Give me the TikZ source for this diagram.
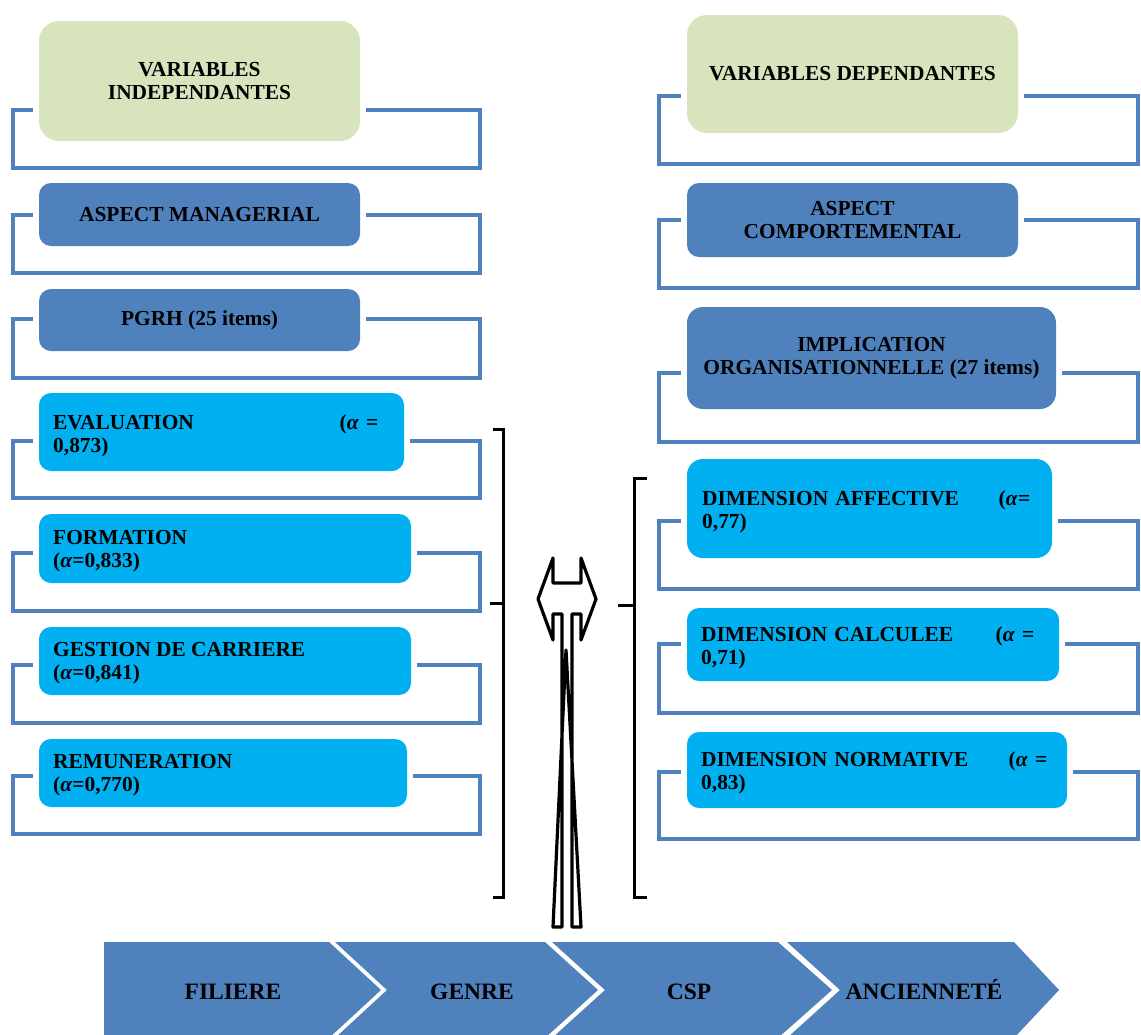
\documentclass[tikz,border=0pt]{standalone}
\usepackage{fontspec}
\setmainfont{Liberation Serif}
\definecolor{frameblue}{HTML}{4F81BD}
\definecolor{darkbox}{HTML}{4F81BD}
\definecolor{cyanbox}{HTML}{00B0F0}
\definecolor{greenbox}{HTML}{D7E4BD}
\tikzset{
  boxtext/.style={font=\fontsize{21.4}{22.5}\selectfont\bfseries},
  basebox/.style={draw=none, inner sep=0pt, rounded corners=12pt},
  greenbx/.style={basebox, fill=greenbox, rounded corners=20pt},
  darkbx/.style={basebox, fill=darkbox},
  cyanbx/.style={basebox, fill=cyanbox},
  ctext/.style={boxtext, align=center, inner sep=0pt},
  ltext/.style={boxtext, align=left, anchor=north west, inner sep=0pt},
  frameline/.style={draw=frameblue, line width=4pt, line join=miter},
  bracketline/.style={draw=black, line width=3pt},
  chev/.style={fill=darkbox, draw=none},
  chevtext/.style={font=\fontsize{23.5}{25}\selectfont\bfseries, inner sep=0pt, anchor=base}
}
\begin{document}
\begin{tikzpicture}[x=1pt, y=-1pt]
\useasboundingbox (0,0) rectangle (1141,1034);
\clip (0,0) rectangle (1141,1034);

% ---------- left frames ----------
\draw[frameline] (33,110) -- (13,110) -- (13,168) -- (480,168) -- (480,110) -- (366,110);
\draw[frameline] (33,215) -- (13,215) -- (13,273) -- (480,273) -- (480,215) -- (366,215);
\draw[frameline] (33,319) -- (13,319) -- (13,378) -- (480,378) -- (480,319) -- (366,319);
\draw[frameline] (33,441) -- (13,441) -- (13,498) -- (480,498) -- (480,441) -- (410,441);
\draw[frameline] (33,553) -- (13,553) -- (13,611) -- (480,611) -- (480,553) -- (417,553);
\draw[frameline] (33,665) -- (13,665) -- (13,723) -- (480,723) -- (480,665) -- (417,665);
\draw[frameline] (33,776) -- (13,776) -- (13,834) -- (480,834) -- (480,776) -- (413,776);

% ---------- right frames ----------
\draw[frameline] (681,96) -- (659,96) -- (659,164) -- (1138,164) -- (1138,96) -- (1024,96);
\draw[frameline] (681,220) -- (659,220) -- (659,288) -- (1138,288) -- (1138,220) -- (1024,220);
\draw[frameline] (681,373) -- (659,373) -- (659,442) -- (1138,442) -- (1138,373) -- (1062,373);
\draw[frameline] (681,521) -- (659,521) -- (659,589) -- (1138,589) -- (1138,521) -- (1058,521);
\draw[frameline] (681,644) -- (659,644) -- (659,713) -- (1138,713) -- (1138,644) -- (1065,644);
\draw[frameline] (681,772) -- (659,772) -- (659,839) -- (1138,839) -- (1138,772) -- (1073,772);

% ---------- left boxes ----------
\node[greenbx, minimum width=321, minimum height=120] (b1) at (199.5,81) {};
\node[darkbx, minimum width=321, minimum height=63] (b2) at (199.5,214.5) {};
\node[darkbx, minimum width=321, minimum height=62] (b3) at (199.5,320) {};
\node[cyanbx, minimum width=365, minimum height=78] (b4) at (221.5,432) {};
\node[cyanbx, minimum width=372, minimum height=69] (b5) at (225,548.5) {};
\node[cyanbx, minimum width=372, minimum height=68] (b6) at (225,661) {};
\node[cyanbx, minimum width=368, minimum height=68] (b7) at (223,773) {};

\node[ctext] (t1) at (b1.center) {VARIABLES\\INDEPENDANTES};
\node[ctext] (t2) at (b2.center) {ASPECT MANAGERIAL};
\node[ctext] (t3) at (b3.center) {PGRH (25 items)};
\node[ltext, text width=325] (t4) at (53,414.5) {EVALUATION\hfill(\textit{α} =\\0,873)};
\node[ltext] (t5) at (53,530.5) {FORMATION\\(\textit{α}=0,833)};
\node[ltext] (t6) at (53,642.5) {GESTION DE CARRIERE\\(\textit{α}=0,841)};
\node[ltext] (t7) at (53,754.5) {REMUNERATION\\(\textit{α}=0,770)};

% ---------- right boxes ----------
\node[greenbx, minimum width=331, minimum height=118] (r1) at (852.5,74) {};
\node[darkbx, minimum width=331, minimum height=74] (r2) at (852.5,220) {};
\node[darkbx, minimum width=369, minimum height=102, rounded corners=16pt] (r3) at (871.5,358) {};
\node[cyanbx, minimum width=365, minimum height=99, rounded corners=16pt] (r4) at (869.5,508.5) {};
\node[cyanbx, minimum width=372, minimum height=73] (r5) at (873,644.5) {};
\node[cyanbx, minimum width=380, minimum height=76] (r6) at (877,770) {};

\node[ctext] (s1) at (r1.center) {VARIABLES DEPENDANTES};
\node[ctext] (s2) at (r2.center) {ASPECT\\COMPORTEMENTAL};
\node[ctext] (s3) at (r3.center) {IMPLICATION\\ORGANISATIONNELLE (27 items)};
\node[ltext, text width=328] (s4) at (702,490.5) {DIMENSION AFFECTIVE\hfill(\textit{α}=\\0,77)};
\node[ltext, text width=333] (s5) at (701,626.5) {DIMENSION CALCULEE\hfill(\textit{α} =\\0,71)};
\node[ltext, text width=346] (s6) at (701,751.5) {DIMENSION NORMATIVE\hfill(\textit{α} =\\0,83)};

% ---------- brackets ----------
\draw[bracketline] (493,429) -- (503,429) -- (503,897) -- (493,897);
\draw[bracketline] (490,603) -- (503,603);
\draw[bracketline] (647,478) -- (634,478) -- (634,897) -- (647,897);
\draw[bracketline] (618,605) -- (634,605);

% ---------- central double arrow ----------
\draw[line width=3.2pt, line join=round] (538,599) -- (553,558) -- (553,583) -- (581,583) -- (581,558)
  -- (596,599) -- (581,640) -- (581,614) -- (572,614) -- (572,927) -- (581,927) -- (566,650)
  -- (553,927) -- (562,927) -- (562,614) -- (553,614) -- (553,640) -- cycle;

% ---------- bottom chevrons ----------
\path[chev] (104,942) -- (329,942) -- (381,990) -- (329,1038) -- (104,1038) -- cycle;
\path[chev] (335,942) -- (545,942) -- (598,990) -- (545,1038) -- (335,1038) -- (387,990) -- cycle;
\path[chev] (552,942) -- (778,942) -- (832,990) -- (778,1038) -- (552,1038) -- (605,990) -- cycle;
\path[chev] (787,942) -- (1014,942) -- (1059,990) -- (1014,1038) -- (787,1038) -- (840,990) -- cycle;
\node[chevtext] (c1) at (233,999) {FILIERE};
\node[chevtext] (c2) at (472,999) {GENRE};
\node[chevtext] (c3) at (689,999) {CSP};
\node[chevtext] (c4) at (924,999) {ANCIENNETÉ};
\end{tikzpicture}
\end{document}
